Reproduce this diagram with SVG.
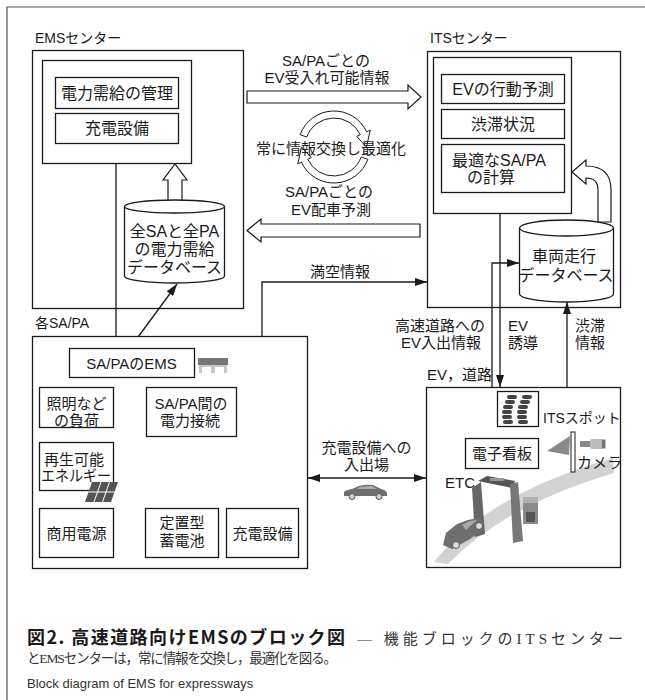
<svg xmlns="http://www.w3.org/2000/svg" width="645" height="700" viewBox="0 0 645 700">
  <style>
    .frame { fill: none; stroke: #555; stroke-width: 1.2; }
    .box { fill: #fff; stroke: #1a1a1a; stroke-width: 1.3; }
    .ln { fill: none; stroke: #1a1a1a; stroke-width: 1.3; }
    .hollow { fill: #fff; stroke: #1a1a1a; stroke-width: 1.2; }
    .cyc { fill: none; stroke: #1a1a1a; stroke-width: 1; }
    .t { font-family: "Liberation Sans", "Noto Sans CJK JP", sans-serif; font-size: 15px; fill: #1a1a1a; dominant-baseline: central; }
    .m { text-anchor: middle; }
    .cap-b { font-family: "Noto Sans CJK JP", sans-serif; font-size: 18px; font-weight: 700; fill: #1a1a1a; }
    .cap-s { font-family: "Liberation Serif", "Noto Sans CJK JP", serif; font-size: 13.5px; fill: #333; }
    .cap-en { font-family: "Liberation Sans", sans-serif; font-size: 13px; fill: #333; }
  </style>
  <defs>
    <marker id="ah" markerUnits="userSpaceOnUse" markerWidth="13" markerHeight="8" refX="12" refY="4" orient="auto-start-reverse">
      <path d="M0,0 L12,4 L0,8 Z" fill="#1a1a1a"/>
    </marker>
  </defs>

  <rect width="645" height="700" fill="#fff"/>
  <path class="frame" d="M7,700 L7,7 L645,7"/>

  <!-- EMS centre -->
  <g id="ems-center">
    <text class="t" x="35" y="38" style="font-size:14px">EMSセンター</text>
    <rect class="box" x="32.5" y="50.5" width="211" height="258"/>
    <rect class="box" x="42.5" y="60.5" width="149" height="103"/>
    <rect class="box" x="55.5" y="77.5" width="123" height="31"/>
    <text class="t m" x="117" y="93" style="font-size:16px">電力需給の管理</text>
    <rect class="box" x="55.5" y="113.5" width="123" height="30"/>
    <text class="t m" x="117" y="128.5" style="font-size:16px">充電設備</text>
  </g>

  <!-- ITS centre -->
  <g id="its-center">
    <text class="t" x="430" y="38" style="font-size:14px">ITSセンター</text>
    <rect class="box" x="427.5" y="51.5" width="193" height="256"/>
    <rect class="box" x="433.5" y="57.5" width="138" height="156"/>
    <rect class="box" x="441.5" y="74.5" width="123" height="29"/>
    <text class="t m" x="503" y="89" style="font-size:16px">EVの行動予測</text>
    <rect class="box" x="441.5" y="109.5" width="123" height="29"/>
    <text class="t m" x="503" y="124" style="font-size:16px">渋滞状況</text>
    <rect class="box" x="441.5" y="144.5" width="123" height="48"/>
    <text class="t" x="452" y="160" style="font-size:16px">最適なSA/PA</text>
    <text class="t" x="467" y="177" style="font-size:16px">の計算</text>
  </g>

  <!-- connectors -->
  <g id="connectors">
    <!-- wide hollow arrows between the centres -->
    <path class="hollow" d="M247,91 L408,91 L408,85 L421,97 L408,109 L408,103 L247,103 Z"/>
    <path class="hollow" d="M420,224 L261,224 L261,219 L247,230.5 L261,242 L261,237 L420,237 Z"/>
    <!-- database to management block -->
    <path class="hollow" d="M168,210 L168,180 L163,180 L175,164 L187,180 L182,180 L182,210 Z"/>
    <!-- vehicle database to route calculation -->
    <path class="hollow" d="M598,222 L598,190 Q598,178 586,178 L586,184 L572,172 L586,160 L586,166 Q611,166 611,190 L611,222 Z"/>
    <!-- exchange cycle -->
    <path class="cyc" d="M300.17,134.69 A36,36 0 0 1 366.63,131.79 L370.25,130.10 L366.5,147 L356.66,136.43 L360.28,134.74 A29,29 0 0 0 306.75,137.08 Z"/>
    <path class="cyc" d="M367.83,159.31 A36,36 0 0 1 301.37,162.21 L297.75,163.90 L301.5,147 L311.34,157.57 L307.72,159.26 A29,29 0 0 0 361.25,156.92 Z"/>

    <!-- EMS centre to SA/PA EMS -->
    <line class="ln" x1="116" y1="164" x2="116" y2="348" marker-end="url(#ah)"/>
    <line class="ln" x1="130" y1="348" x2="177" y2="284" marker-end="url(#ah)"/>
    <!-- occupancy information -->
    <polyline class="ln" points="262,508 262,282 427,282" marker-end="url(#ah)"/>
    <!-- ITS centre and road -->
    <line class="ln" x1="500" y1="213" x2="500" y2="387" marker-end="url(#ah)"/>
    <polyline class="ln" points="492,387 492,263 519,263" marker-end="url(#ah)"/>
    <line class="ln" x1="567" y1="387" x2="567" y2="302" marker-end="url(#ah)"/>
    <!-- entry / exit of charging area -->
    <line class="ln" x1="308" y1="478" x2="426" y2="478" marker-start="url(#ah)" marker-end="url(#ah)"/>

    <!-- SA/PA internal wiring -->
    <line class="ln" x1="129" y1="377" x2="129" y2="532"/>
    <line class="ln" x1="113" y1="412" x2="146" y2="412"/>
    <line class="ln" x1="113" y1="466" x2="129" y2="466"/>
    <line class="ln" x1="113" y1="532" x2="145" y2="532"/>
    <line class="ln" x1="218" y1="532" x2="226" y2="532"/>
  </g>

  <!-- databases -->
  <g id="ems-database">
    <path class="box" d="M124.5,206.5 L124.5,276 A50,7 0 0 0 224.5,276 L224.5,206.5"/>
    <ellipse class="box" cx="174.5" cy="206.5" rx="50" ry="6.5"/>
    <text class="t m" x="174.5" y="231.5" style="font-size:16px">全SAと全PA</text>
    <text class="t m" x="174.5" y="249.5" style="font-size:16px">の電力需給</text>
    <text class="t m" x="174.5" y="267" style="font-size:16px">データベース</text>
  </g>
  <g id="vehicle-database">
    <path class="box" d="M519.5,228 L519.5,294 A47,8 0 0 0 613.5,294 L613.5,228"/>
    <ellipse class="box" cx="566.5" cy="228" rx="47" ry="8"/>
    <text class="t m" x="564" y="256.5" style="font-size:16px">車両走行</text>
    <text class="t m" x="566" y="275.5" style="font-size:16px">データベース</text>
  </g>

  <!-- labels between the centres -->
  <g id="flow-labels">
    <text class="t m" x="326" y="60">SA/PAごとの</text>
    <text class="t m" x="327" y="77.5">EV受入れ可能情報</text>
    <text class="t m" x="331" y="148">常に情報交換し最適化</text>
    <text class="t m" x="329" y="191.5">SA/PAごとの</text>
    <text class="t m" x="331" y="209.5">EV配車予測</text>
    <text class="t m" x="340" y="271">満空情報</text>
    <text class="t m" x="440" y="325">高速道路への</text>
    <text class="t m" x="441" y="342">EV入出情報</text>
    <text class="t" x="508" y="325">EV</text>
    <text class="t" x="508" y="342">誘導</text>
    <text class="t" x="575" y="325">渋滞</text>
    <text class="t" x="575" y="342">情報</text>
    <text class="t m" x="366.5" y="447">充電設備への</text>
    <text class="t m" x="366.5" y="464">入出場</text>
  </g>

  <!-- each SA/PA -->
  <g id="sapa">
    <text class="t" x="35" y="323" style="font-size:14px">各SA/PA</text>
    <rect class="box" x="32.5" y="336.5" width="275" height="232"/>
  </g>
  <g id="sapa-ems">
    <rect class="box" x="69.5" y="348.5" width="125" height="29"/>
    <text class="t m" x="131.5" y="363">SA/PAのEMS</text>
    <rect x="198" y="358" width="30" height="7" fill="#777"/>
    <rect x="199" y="365" width="28" height="8" fill="#c8c8c8"/>
    <rect x="202" y="367" width="9" height="6" fill="#fff"/>
    <rect x="215" y="367" width="9" height="6" fill="#fff"/>
  </g>
  <g id="lighting-load">
    <rect class="box" x="39.5" y="387.5" width="74" height="40"/>
    <text class="t m" x="76.5" y="403">照明など</text>
    <text class="t m" x="76.5" y="420">の負荷</text>
  </g>
  <g id="inter-sapa-link">
    <rect class="box" x="146.5" y="387.5" width="90" height="49"/>
    <text class="t m" x="191" y="403">SA/PA間の</text>
    <text class="t m" x="190" y="420">電力接続</text>
  </g>
  <g id="renewable">
    <rect class="box" x="39.5" y="442.5" width="74" height="48"/>
    <text class="t m" x="74" y="459">再生可能</text>
    <text class="t m" x="76" y="475" textLength="70" lengthAdjust="spacingAndGlyphs">エネルギー</text>
    <polygon points="92,482 118,482 111,502 85,502" fill="#555"/>
    <g stroke="#fff" stroke-width="1">
      <line x1="88.5" y1="492" x2="114.5" y2="492"/>
      <line x1="101" y1="482" x2="94" y2="502"/>
      <line x1="109.5" y1="482" x2="102.5" y2="502"/>
    </g>
  </g>
  <g id="grid-power">
    <rect class="box" x="39.5" y="508.5" width="74" height="49"/>
    <text class="t m" x="76.5" y="533">商用電源</text>
  </g>
  <g id="storage-battery">
    <rect class="box" x="145.5" y="508.5" width="73" height="49"/>
    <text class="t m" x="182" y="522">定置型</text>
    <text class="t m" x="182" y="540">蓄電池</text>
  </g>
  <g id="charger">
    <rect class="box" x="226.5" y="508.5" width="72" height="49"/>
    <text class="t m" x="262.5" y="533">充電設備</text>
  </g>

  <!-- car entering the charging area -->
  <g id="car-icon">
    <path d="M344,496 L344,492 Q346,490 352,489 L359,486 Q366,484 373,485 L381,489 Q386,490 387,493 L387,496 Z" fill="#6e6e6e"/>
    <path d="M360,487 Q366,485.5 372,486 L377,489 L357,489 Z" fill="#aaa"/>
    <circle cx="352" cy="496.5" r="3" fill="#ccc" stroke="#555"/>
    <circle cx="379" cy="496.5" r="3" fill="#ccc" stroke="#555"/>
  </g>

  <!-- EV and road -->
  <g id="ev-road">
    <text class="t" x="427" y="374">EV，道路</text>
    <rect class="box" x="426.5" y="387.5" width="194" height="180"/>
    <!-- road -->
    <path d="M434,562 Q488,494 613,458 L614,473 Q505,505 448,564 Z" fill="#d2d2d2"/>
    <!-- ETC gate -->
    <polygon points="472,488 481,482 485,534 475,537" fill="#666"/>
    <polygon points="478,481 487,476 515,481 512,488" fill="#555"/>
    <rect x="490" y="478" width="14" height="3" fill="#999"/>
    <polygon points="510,484 518,482 523,541 513,543" fill="#777"/>
    <rect x="523" y="497" width="15" height="27" fill="#8a8a8a"/>
    <rect x="523" y="497" width="15" height="6" fill="#b0b0b0"/>
    <rect x="526" y="512" width="9" height="10" fill="#555"/>
    <text class="t" x="445" y="482">ETC</text>
    <!-- car at gate -->
    <path d="M443,545 L446,533 L457,524 L468,520 L478,518 L484,522 L483,530 L470,539 L452,549 Z" fill="#6e6e6e"/>
    <path d="M462,525 L470,521 L477,520 L466,530 Z" fill="#aaa"/>
    <circle cx="456" cy="545" r="3.5" fill="#ddd" stroke="#555"/>
    <circle cx="479" cy="526" r="3.5" fill="#ddd" stroke="#555"/>
  </g>
  <g id="traffic-icon">
    <rect class="box" x="497.5" y="391.5" width="41" height="35"/>
    <g fill="#444">
      <rect x="507" y="395" width="10" height="4" rx="2"/>
      <rect x="505" y="400" width="10" height="4" rx="2"/>
      <rect x="503" y="405" width="10" height="4" rx="2"/>
      <rect x="502" y="410" width="10" height="4" rx="2"/>
      <rect x="502" y="415" width="10" height="4" rx="2"/>
      <rect x="503" y="420" width="10" height="4" rx="2"/>
      <rect x="522" y="395" width="10" height="4" rx="2"/>
      <rect x="520" y="400" width="10" height="4" rx="2"/>
      <rect x="518" y="405" width="10" height="4" rx="2"/>
      <rect x="517" y="410" width="10" height="4" rx="2"/>
      <rect x="517" y="415" width="10" height="4" rx="2"/>
      <rect x="518" y="420" width="10" height="4" rx="2"/>
    </g>
  </g>
  <g id="its-spot">
    <text class="t" x="543" y="418" style="font-size:14px">ITSスポット</text>
    <polygon points="547,451 570,436 569,455" fill="#888"/>
    <rect x="571" y="432" width="4" height="40" fill="#fff" stroke="#1a1a1a" stroke-width="1"/>
  </g>
  <g id="signboard">
    <rect class="box" x="465.5" y="438.5" width="73" height="30"/>
    <text class="t m" x="502" y="453.5">電子看板</text>
  </g>
  <g id="camera">
    <rect x="590" y="439" width="16" height="10" rx="2" fill="#bbb"/>
    <rect x="580" y="441" width="10" height="6" fill="#888"/>
    <rect x="602" y="440" width="3" height="8" fill="#777"/>
    <text class="t" x="577" y="462">カメラ</text>
  </g>

  <!-- caption -->
  <g id="caption">
    <text class="cap-b" x="27" y="644" textLength="318" lengthAdjust="spacing">図2. 高速道路向けEMSのブロック図</text>
    <text class="cap-s" x="357" y="644" textLength="266" lengthAdjust="spacing" style="font-size:15px">— 機能ブロックのITSセンター</text>
    <text class="cap-s" x="27" y="663" textLength="310" lengthAdjust="spacing">とEMSセンターは，常に情報を交換し，最適化を図る。</text>
    <text class="cap-en" x="27" y="688">Block diagram of EMS for expressways</text>
  </g>
</svg>
